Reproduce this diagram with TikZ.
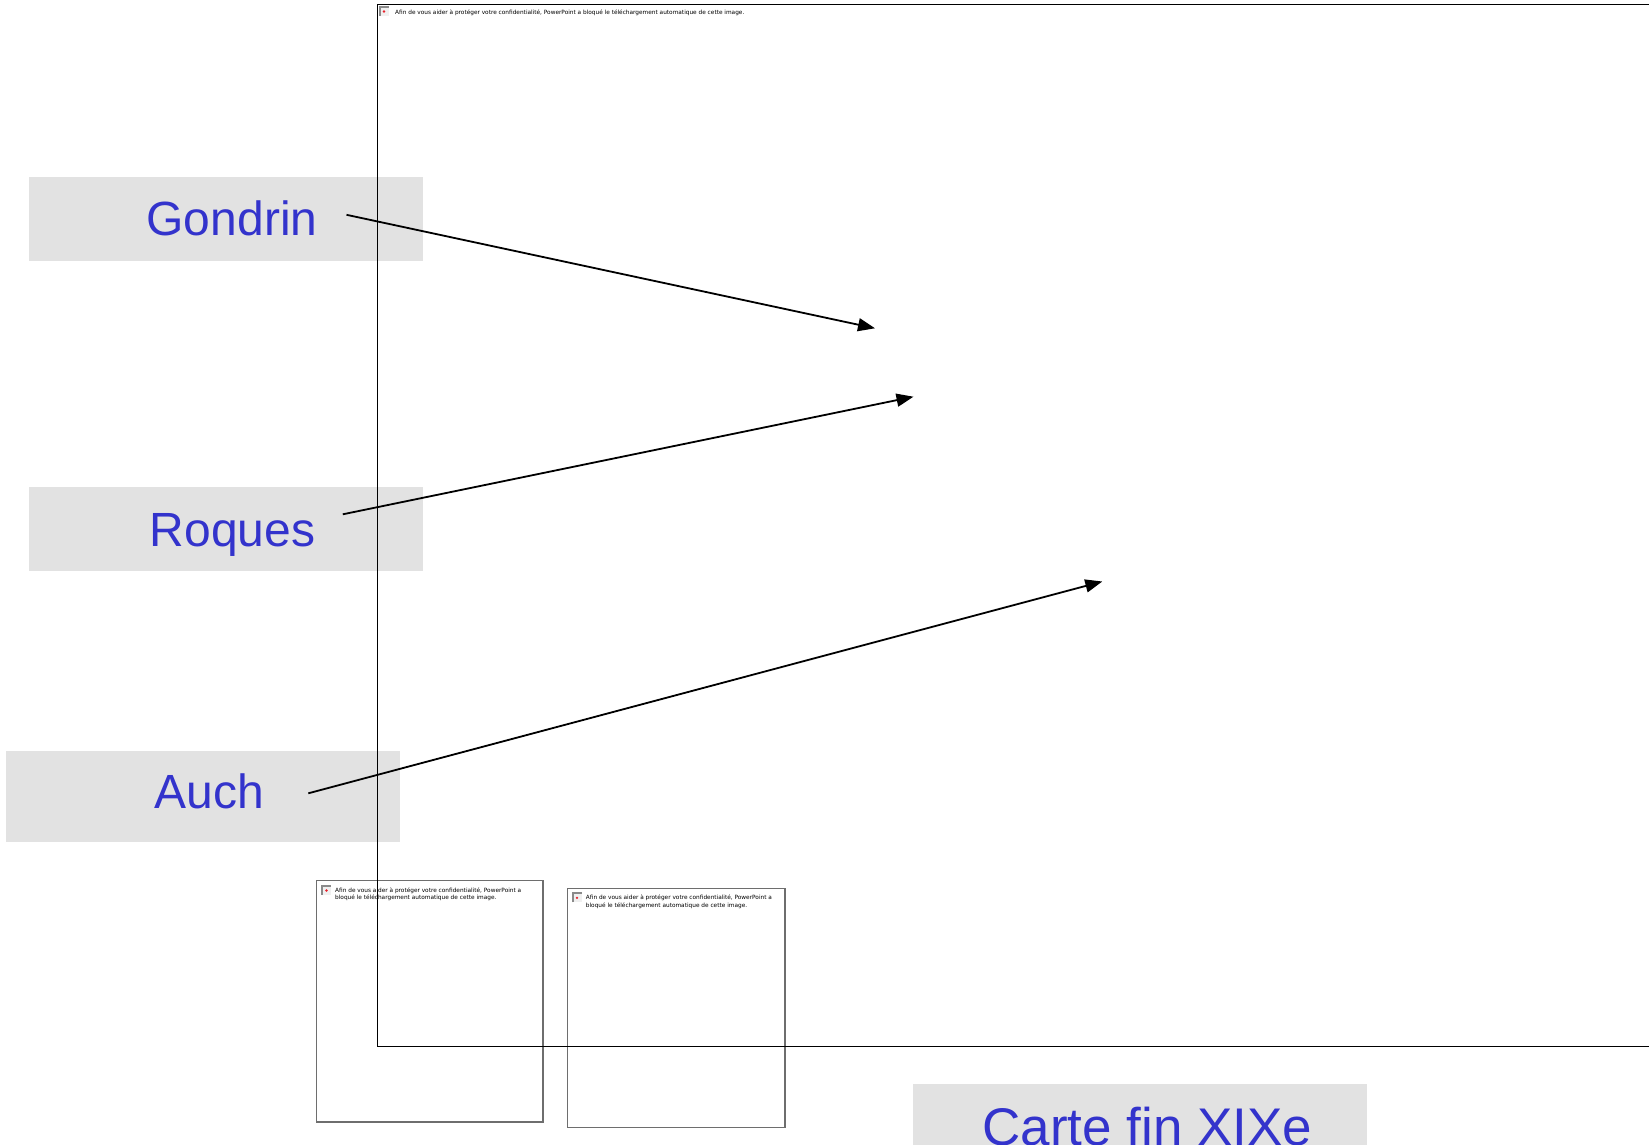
\documentclass[tikz,border=0pt]{standalone}
\usepackage{fontspec}
\setmainfont{Liberation Sans}
\newfontfamily\tahomalike{DejaVu Sans}
\usetikzlibrary{arrows.meta}
\definecolor{labelblue}{HTML}{3333CC}
\definecolor{marble}{HTML}{E2E2E2}
\definecolor{framegray}{HTML}{6E6E6E}
\definecolor{icongray}{HTML}{8A8A8A}
\definecolor{iconred}{HTML}{E8202A}

\tikzset{
  marblebox/.style={fill=marble, draw=none, inner sep=0pt, outer sep=0pt},
  labeltext/.style={text=labelblue, font=\fontsize{48}{58}\selectfont, inner sep=0pt, anchor=base},
  mainframe/.style={draw=black, line width=1pt, inner sep=0pt, outer sep=0pt},
  imgframe/.style={draw=framegray, line width=1.3pt, inner sep=0pt, outer sep=0pt},
  blocktext/.style={font=\tahomalike\fontsize{5.8}{7.5}\selectfont, inner sep=0pt, anchor=north west, align=left},
  pointer/.style={line width=1.8pt, -{Triangle[length=17pt,width=13pt]}},
  pics/blockedicon/.style={code={
    \fill[gray!12] (0,0) rectangle (10,10);
    \draw[icongray, line width=2pt] (1,10) -- (1,1) -- (10,1);
    \fill[iconred] (5.5,5.5) circle (1.3);
  }}
}

\begin{document}
\begin{tikzpicture}[x=1pt,y=-1pt]
\useasboundingbox (0,0) rectangle (1649,1145);
\clip (0,0) rectangle (1649,1145);

% label backgrounds
\node[marblebox, minimum width=394pt, minimum height=84pt] (gondrinbox) at (226,219) {};
\node[marblebox, minimum width=394pt, minimum height=84pt] (roquesbox) at (226,529) {};
\node[marblebox, minimum width=394pt, minimum height=91pt] (auchbox) at (203,796.5) {};
\node[marblebox, minimum width=454pt, minimum height=70pt] (cartebox) at (1140,1119) {};

% image placeholders
\node[imgframe, minimum width=226.3pt, minimum height=241.3pt] (imgone) at (429.85,1001.35) {};
\node[imgframe, minimum width=217.3pt, minimum height=239pt] (imgtwo) at (676.35,1007.8) {};
\node[mainframe, minimum width=1282.3pt, minimum height=1041.8pt] (mainimg) at (1018.85,525.1) {};

\pic at (378.5,6) {blockedicon};
\pic at (321,885) {blockedicon};
\pic at (571.5,892.3) {blockedicon};

\node[blocktext] (maintxt) at (395,9.5) {Afin de vous aider à protéger votre confidentialité, PowerPoint a bloqué le téléchargement automatique de cette image.};
\node[blocktext] (onetxt) at (335,887.5) {Afin de vous aider à protéger votre confidentialité, PowerPoint a\\bloqué le téléchargement automatique de cette image.};
\node[blocktext] (twotxt) at (585.7,895) {Afin de vous aider à protéger votre confidentialité, PowerPoint a\\bloqué le téléchargement automatique de cette image.};

% labels
\node[labeltext] (gondrin) at (232,235) {Gondrin};
\node[labeltext] (roques) at (232.5,546) {Roques};
\node[labeltext] (auch) at (209,808.3) {Auch};
\node[labeltext, font=\fontsize{53}{60}\selectfont] (carte) at (1147.5,1145.5) {Carte fin XIXe};

% arrows
\coordinate (gstart) at (346.5,214.8);
\coordinate (gend) at (875,328.3);
\coordinate (rstart) at (342.8,514.3);
\coordinate (rend) at (913.5,396.7);
\coordinate (astart) at (308.3,793.3);
\coordinate (aend) at (1102.3,581.5);
\draw[pointer] (gstart) -- (gend);
\draw[pointer] (rstart) -- (rend);
\draw[pointer] (astart) -- (aend);
\end{tikzpicture}
\end{document}
